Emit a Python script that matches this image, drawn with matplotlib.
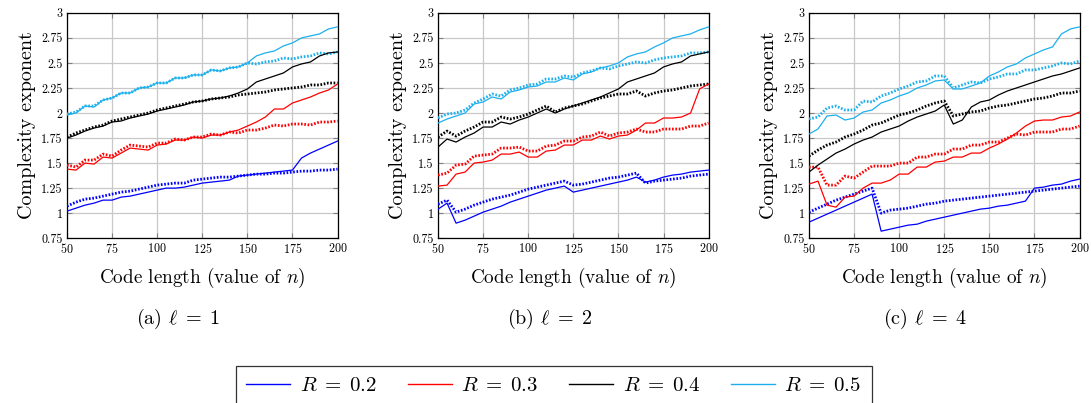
import numpy as np
import matplotlib
matplotlib.use("Agg")
import matplotlib.pyplot as plt
from matplotlib.lines import Line2D

plt.rcParams['font.family'] = ['cmr10', 'DejaVu Serif']
plt.rcParams['mathtext.fontset'] = 'cm'
plt.rcParams['axes.formatter.use_mathtext'] = True

# --- data: code length n = 50..200, step 5 ---
n_values = list(range(50, 205, 5))
R_labels = ["0.2", "0.3", "0.4", "0.5"]
colors = ['#0000ff', '#ff0000', '#000000', '#1cb0ee']
panel_captions = [r"(a) $\ell\;=\;1$", r"(b) $\ell\;=\;2$", r"(c) $\ell\;=\;4$"]

# l = 1
a_solid_02 = [1.02, 1.05, 1.08, 1.10, 1.13, 1.13, 1.16, 1.17, 1.19, 1.21, 1.23, 1.25, 1.25, 1.26, 1.28, 1.30,
              1.31, 1.32, 1.33, 1.37, 1.38, 1.39, 1.40, 1.41, 1.42, 1.43, 1.55, 1.60, 1.64, 1.68, 1.72]
a_dot_02 = [1.07, 1.11, 1.14, 1.15, 1.17, 1.19, 1.21, 1.22, 1.24, 1.26, 1.28, 1.29, 1.30, 1.30, 1.33, 1.34,
            1.35, 1.36, 1.36, 1.37, 1.38, 1.39, 1.39, 1.40, 1.40, 1.41, 1.42, 1.42, 1.43, 1.43, 1.44]
a_solid_03 = [1.44, 1.43, 1.50, 1.49, 1.56, 1.55, 1.60, 1.65, 1.64, 1.63, 1.68, 1.69, 1.73, 1.73, 1.76, 1.75,
              1.78, 1.78, 1.81, 1.83, 1.87, 1.91, 1.96, 2.04, 2.04, 2.10, 2.13, 2.16, 2.20, 2.23, 2.29]
a_dot_03 = [1.48, 1.46, 1.53, 1.53, 1.59, 1.57, 1.63, 1.68, 1.67, 1.66, 1.70, 1.70, 1.74, 1.73, 1.76, 1.76,
            1.79, 1.78, 1.81, 1.80, 1.83, 1.83, 1.85, 1.88, 1.87, 1.89, 1.89, 1.88, 1.91, 1.91, 1.92]
a_solid_04 = [1.75, 1.78, 1.82, 1.85, 1.87, 1.91, 1.92, 1.95, 1.97, 1.99, 2.02, 2.04, 2.06, 2.08, 2.11, 2.12,
              2.14, 2.15, 2.17, 2.20, 2.24, 2.31, 2.34, 2.37, 2.40, 2.46, 2.49, 2.51, 2.57, 2.60, 2.61]
a_dot_04 = [1.76, 1.80, 1.83, 1.86, 1.88, 1.92, 1.94, 1.96, 1.98, 2.00, 2.03, 2.05, 2.07, 2.09, 2.11, 2.12,
            2.14, 2.15, 2.16, 2.18, 2.19, 2.20, 2.21, 2.23, 2.24, 2.25, 2.26, 2.28, 2.28, 2.30, 2.30]
a_solid_05 = [1.98, 2.00, 2.07, 2.06, 2.13, 2.15, 2.20, 2.20, 2.25, 2.26, 2.30, 2.30, 2.35, 2.35, 2.38, 2.38,
              2.43, 2.42, 2.45, 2.46, 2.50, 2.57, 2.60, 2.62, 2.67, 2.70, 2.75, 2.77, 2.79, 2.84, 2.86]
a_dot_05 = [1.99, 2.01, 2.07, 2.07, 2.13, 2.15, 2.20, 2.20, 2.25, 2.26, 2.30, 2.30, 2.35, 2.35, 2.38, 2.38,
            2.43, 2.42, 2.45, 2.46, 2.50, 2.49, 2.51, 2.52, 2.55, 2.54, 2.56, 2.57, 2.60, 2.59, 2.61]

# l = 2
b_solid_02 = [1.04, 1.10, 0.90, 0.93, 0.97, 1.01, 1.04, 1.07, 1.11, 1.14, 1.17, 1.20, 1.23, 1.25, 1.27, 1.21,
              1.23, 1.25, 1.27, 1.29, 1.31, 1.33, 1.36, 1.31, 1.33, 1.36, 1.38, 1.39, 1.41, 1.42, 1.43]
b_dot_02 = [1.09, 1.13, 1.01, 1.04, 1.08, 1.11, 1.14, 1.16, 1.18, 1.21, 1.24, 1.26, 1.28, 1.30, 1.32, 1.28,
            1.29, 1.31, 1.33, 1.35, 1.36, 1.38, 1.40, 1.30, 1.32, 1.33, 1.34, 1.35, 1.37, 1.38, 1.39]
b_solid_03 = [1.27, 1.28, 1.39, 1.41, 1.50, 1.51, 1.53, 1.59, 1.59, 1.61, 1.56, 1.56, 1.62, 1.63, 1.68, 1.68,
              1.73, 1.73, 1.77, 1.74, 1.77, 1.78, 1.83, 1.90, 1.90, 1.95, 1.95, 1.96, 2.00, 2.24, 2.29]
b_dot_03 = [1.38, 1.40, 1.48, 1.49, 1.57, 1.58, 1.59, 1.65, 1.65, 1.66, 1.62, 1.62, 1.67, 1.68, 1.72, 1.72,
            1.76, 1.77, 1.81, 1.77, 1.80, 1.81, 1.84, 1.81, 1.81, 1.84, 1.84, 1.84, 1.87, 1.87, 1.90]
b_solid_04 = [1.66, 1.74, 1.71, 1.76, 1.80, 1.86, 1.86, 1.91, 1.89, 1.93, 1.96, 2.00, 2.04, 2.00, 2.04, 2.07,
              2.10, 2.13, 2.16, 2.20, 2.24, 2.31, 2.34, 2.37, 2.40, 2.46, 2.49, 2.51, 2.57, 2.59, 2.61]
b_dot_04 = [1.76, 1.82, 1.77, 1.82, 1.86, 1.91, 1.91, 1.96, 1.94, 1.96, 1.99, 2.03, 2.07, 2.01, 2.05, 2.07,
            2.09, 2.12, 2.15, 2.17, 2.19, 2.19, 2.22, 2.17, 2.20, 2.22, 2.23, 2.25, 2.27, 2.28, 2.29]
b_solid_05 = [1.90, 1.94, 1.97, 2.00, 2.09, 2.11, 2.16, 2.14, 2.21, 2.23, 2.26, 2.27, 2.31, 2.31, 2.35, 2.33,
              2.39, 2.41, 2.45, 2.47, 2.50, 2.56, 2.59, 2.61, 2.66, 2.70, 2.75, 2.77, 2.79, 2.83, 2.86]
b_dot_05 = [1.95, 1.99, 2.00, 2.03, 2.10, 2.14, 2.19, 2.17, 2.23, 2.25, 2.28, 2.29, 2.34, 2.34, 2.37, 2.36,
            2.40, 2.42, 2.45, 2.44, 2.47, 2.49, 2.51, 2.50, 2.53, 2.55, 2.56, 2.57, 2.60, 2.60, 2.61]

# l = 4
c_solid_02 = [0.91, 0.95, 0.99, 1.03, 1.07, 1.11, 1.15, 1.19, 0.82, 0.84, 0.86, 0.88, 0.89, 0.92, 0.94, 0.96,
              0.98, 1.00, 1.02, 1.04, 1.05, 1.07, 1.08, 1.10, 1.12, 1.25, 1.26, 1.28, 1.29, 1.32, 1.34]
c_dot_02 = [1.01, 1.05, 1.09, 1.13, 1.16, 1.19, 1.22, 1.25, 1.00, 1.03, 1.04, 1.05, 1.07, 1.09, 1.10, 1.12,
            1.13, 1.14, 1.15, 1.16, 1.17, 1.18, 1.19, 1.20, 1.21, 1.22, 1.23, 1.24, 1.25, 1.26, 1.27]
c_solid_03 = [1.29, 1.32, 1.08, 1.06, 1.16, 1.17, 1.25, 1.30, 1.30, 1.33, 1.39, 1.39, 1.46, 1.46, 1.51, 1.52,
              1.56, 1.56, 1.60, 1.60, 1.65, 1.69, 1.74, 1.80, 1.87, 1.92, 1.93, 1.93, 1.96, 1.97, 2.01]
c_dot_03 = [1.46, 1.46, 1.28, 1.28, 1.37, 1.35, 1.41, 1.47, 1.47, 1.47, 1.50, 1.50, 1.56, 1.56, 1.59, 1.59,
            1.64, 1.64, 1.68, 1.68, 1.71, 1.71, 1.75, 1.79, 1.78, 1.81, 1.81, 1.81, 1.84, 1.84, 1.87]
c_solid_04 = [1.41, 1.48, 1.54, 1.60, 1.64, 1.69, 1.73, 1.76, 1.81, 1.84, 1.87, 1.92, 1.96, 1.99, 2.02, 2.08,
              1.89, 1.93, 2.06, 2.11, 2.13, 2.18, 2.22, 2.25, 2.28, 2.31, 2.34, 2.37, 2.39, 2.42, 2.45]
c_dot_04 = [1.57, 1.63, 1.68, 1.71, 1.76, 1.79, 1.83, 1.88, 1.90, 1.94, 1.98, 2.00, 2.03, 2.07, 2.10, 2.12,
            1.97, 1.99, 2.01, 2.02, 2.05, 2.07, 2.08, 2.10, 2.12, 2.14, 2.15, 2.17, 2.20, 2.20, 2.22]
c_solid_05 = [1.79, 1.84, 1.97, 1.98, 1.93, 1.95, 2.01, 2.03, 2.10, 2.13, 2.17, 2.20, 2.25, 2.28, 2.32, 2.33,
              2.24, 2.24, 2.27, 2.30, 2.37, 2.41, 2.46, 2.49, 2.55, 2.59, 2.63, 2.66, 2.79, 2.84, 2.86]
c_dot_05 = [1.94, 1.96, 2.05, 2.07, 2.03, 2.03, 2.12, 2.11, 2.17, 2.20, 2.24, 2.27, 2.31, 2.32, 2.37, 2.37,
            2.25, 2.28, 2.31, 2.30, 2.34, 2.36, 2.39, 2.39, 2.43, 2.43, 2.45, 2.47, 2.50, 2.49, 2.52]

panels = [
    ([a_solid_02, a_solid_03, a_solid_04, a_solid_05], [a_dot_02, a_dot_03, a_dot_04, a_dot_05]),
    ([b_solid_02, b_solid_03, b_solid_04, b_solid_05], [b_dot_02, b_dot_03, b_dot_04, b_dot_05]),
    ([c_solid_02, c_solid_03, c_solid_04, c_solid_05], [c_dot_02, c_dot_03, c_dot_04, c_dot_05]),
]

fig = plt.figure(figsize=(10.91, 4.03), dpi=100)
lefts = [0.0614, 0.4015, 0.7415]
caption_x = [178, 550, 925]

for k, (solids, dots) in enumerate(panels):
    ax = fig.add_axes([lefts[k], 0.409, 0.248, 0.559])
    for s, d, c in zip(solids, dots, colors):
        ax.plot(n_values, d, color=c, lw=2.0, ls=(0, (0.6, 0.6)), zorder=3)
        ax.plot(n_values, s, color=c, lw=0.9, zorder=4)
    ax.set_xlim(50, 200)
    ax.set_ylim(0.75, 3)
    ax.set_xticks(range(50, 201, 25))
    ax.set_yticks(np.arange(0.75, 3.01, 0.25))
    ax.set_yticklabels(["0.75", "1", "1.25", "1.5", "1.75", "2", "2.25", "2.5", "2.75", "3"])
    ax.grid(True, color='#c8c8c8', lw=0.9)
    ax.set_axisbelow(True)
    ax.tick_params(direction='in', length=3.5, width=0.8, color='#808080',
                   labelsize=8.7, pad=3, top=True, right=True)
    for sp in ax.spines.values():
        sp.set_linewidth(0.9)
    ax.set_xlabel(r"Code length (value of $n$)", fontsize=13.8, labelpad=7)
    ax.set_ylabel("Complexity exponent", fontsize=14.5, labelpad=4)
    fig.text(caption_x[k] / 1091, 1 - 319 / 403, panel_captions[k], fontsize=14.5,
             ha='center', va='center')

handles = [Line2D([0], [0], color=c, lw=1.0) for c in colors]
labels = [rf"$R\;=\;{r}$" for r in R_labels]
leg = fig.legend(handles, labels, loc='upper center', bbox_to_anchor=(554 / 1091, 1 - 366 / 403),
                 ncol=4, fontsize=15, frameon=True, fancybox=False, edgecolor='black',
                 handlelength=2.1, handletextpad=0.45, columnspacing=1.5, borderpad=0.5,
                 borderaxespad=0)
leg.get_frame().set_linewidth(0.9)

fig.savefig("out.png", dpi=100)
